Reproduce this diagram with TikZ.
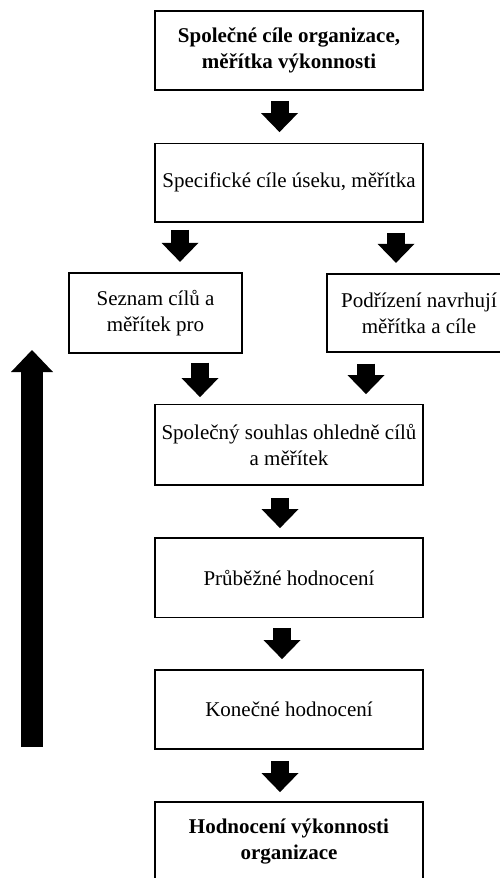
\documentclass[tikz,border=0pt]{standalone}
\usepackage{fontspec}
\setmainfont{Liberation Serif}
\usetikzlibrary{arrows.meta}
\begin{document}
\begin{tikzpicture}[x=1pt,y=-1pt,
  box/.style={draw, line width=1.8pt, minimum width=268pt, minimum height=79pt,
    inner sep=2pt, align=center, font=\fontsize{21}{26}\selectfont},
  boldbox/.style={box, font=\fontsize{21}{26}\selectfont\bfseries},
  blk/.style={line width=18pt,
    -{Triangle[width=37pt,length=19pt,line width=0pt]}},
  bigup/.style={line width=22pt,
    -{Triangle[width=42pt,length=22pt,line width=0pt]}},
]
\useasboundingbox (0,0) rectangle (500,878);

% main column of boxes
\node[boldbox] (goals) at (289,50.5) {Společné cíle organizace,\\měřítka výkonnosti};
\node[box, minimum height=78.5pt] (specific) at (289,182.75) {Specifické cíle úseku, měřítka};
\node[box, minimum width=173pt, minimum height=79.5pt] (list) at (155.5,313) {Seznam cílů a\\měřítek pro};
\node[box, minimum width=184pt, minimum height=78.5pt] (propose) at (419,313) {Podřízení navrhují\\měřítka a cíle};
\node[box, minimum height=80.5pt] (agree) at (289,444.75) {Společný souhlas ohledně cílů\\a měřítek};
\node[box, minimum height=79.5pt] (interim) at (289,577.75) {Průběžné hodnocení};
\node[box] (final) at (289,709.5) {Konečné hodnocení};
\node[boldbox] (perf) at (289,841.5) {Hodnocení výkonnosti\\organizace};

% block arrows between the boxes
\draw[blk, shorten <=10pt, shorten >=10.5pt]
  ([xshift=-9.5pt]goals.south) -- ([xshift=-9.5pt]specific.north);
\draw[blk, shorten <=7pt, shorten >=10.5pt]
  ([xshift=-109pt]specific.south) -- ([xshift=24.5pt]list.north);
\draw[blk, shorten <=10pt, shorten >=10pt]
  ([xshift=107pt]specific.south) -- ([xshift=-23pt]propose.north);
\draw[blk, shorten <=9pt, shorten >=6.5pt]
  ([xshift=44.5pt]list.south) -- ([xshift=-89pt]agree.north);
\draw[blk, shorten <=10.5pt, shorten >=9.5pt]
  ([xshift=-53pt]propose.south) -- ([xshift=77pt]agree.north);
\draw[blk, shorten <=12pt, shorten >=9pt]
  ([xshift=-9pt]agree.south) -- ([xshift=-9pt]interim.north);
\draw[blk, shorten <=9.5pt, shorten >=10pt]
  ([xshift=-7pt]interim.south) -- ([xshift=-7pt]final.north);
\draw[blk, shorten <=11pt, shorten >=9pt]
  ([xshift=-9pt]final.south) -- ([xshift=-9pt]perf.north);

% feedback arrow on the left
\coordinate (fbTail) at (32,747);
\coordinate (fbHead) at (32,350);
\draw[bigup] (fbTail) -- (fbHead);
\end{tikzpicture}
\end{document}
